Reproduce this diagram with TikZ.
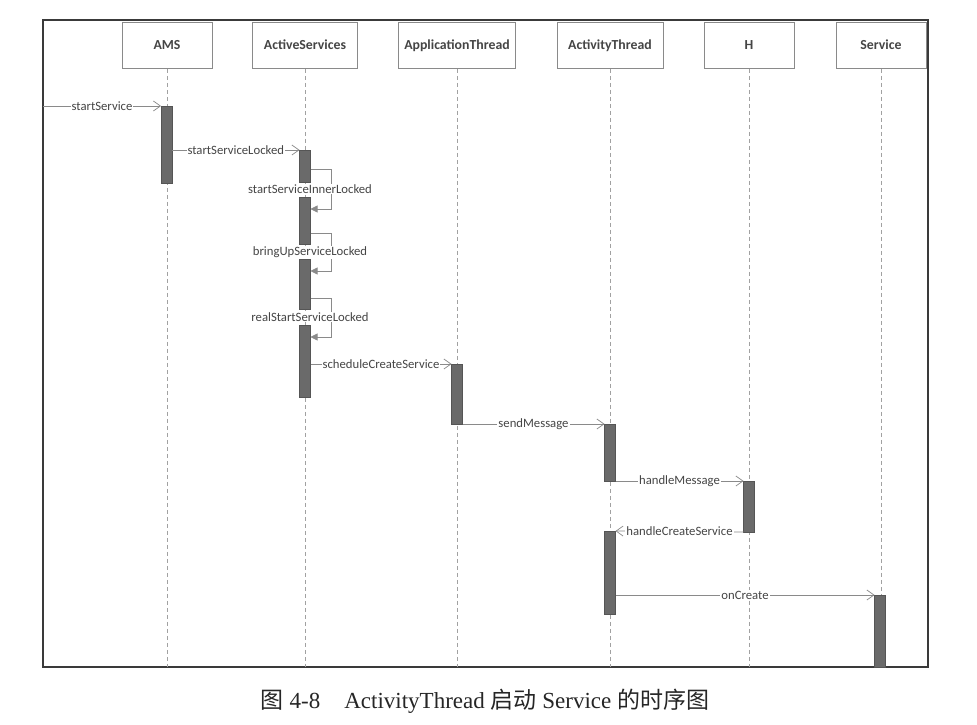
\documentclass[tikz,border=0pt]{standalone}
\usepackage{fontspec}
\setmainfont{Liberation Serif}
\newfontfamily\diagfont{Carlito}
\newfontfamily\cjk{Noto Sans CJK SC}
\usetikzlibrary{arrows.meta}
\definecolor{lineg}{HTML}{8A8A8A}
\definecolor{txtg}{HTML}{454545}
\definecolor{barg}{HTML}{6A6A6A}
\definecolor{frameg}{HTML}{3A3A3A}
\tikzset{
  objbox/.style={draw=lineg, line width=0.8pt, minimum width=90pt, minimum height=46pt, inner sep=0pt, anchor=north,
    text height=11.5pt, text depth=2.5pt,
    font=\diagfont\fontsize{13.8}{15}\selectfont\bfseries, text=txtg},
  lifeline/.style={draw=lineg!80, line width=0.7pt, dash pattern=on 4pt off 3pt},
  actbar/.style={fill=barg, draw=barg!80!black, line width=0.4pt, minimum width=11pt, inner sep=0pt, outer sep=0pt, anchor=north},
  msg/.style={draw=lineg, line width=0.7pt, -{Straight Barb[length=7pt,width=10pt,line width=0.7pt]}},
  selfmsg/.style={draw=lineg, line width=0.7pt, -{Triangle[length=7pt,width=7pt]}},
  msglabel/.style={fill=white, inner sep=1pt, font=\diagfont\fontsize{12.7}{14}\selectfont, text=txtg},
}
\begin{document}
\begin{tikzpicture}[x=1pt,y=-1pt]
\useasboundingbox (0,0) rectangle (977,725);
\fill[white] (0,0) rectangle (977,725);
% frame
\draw[frameg, line width=1.2pt] (43,20) rectangle (928,667);
\coordinate (fbot) at (0,667);
\coordinate (fleft) at (43,106);
% object boxes
\node[objbox] (ams) at (167,22) {AMS};
\node[objbox, minimum width=105pt] (as) at (305,22) {ActiveServices};
\node[objbox, minimum width=117pt] (apt) at (457,22) {ApplicationThread};
\node[objbox, minimum width=106pt] (act) at (610,22) {ActivityThread};
\node[objbox] (h) at (749,22) {H};
\node[objbox] (svc) at (881,22) {Service};
% lifelines
\foreach \o in {ams,as,apt,act,h,svc}
  \draw[lifeline] (\o.south) -- (\o.south |- fbot);
% activation bars
\node[actbar, minimum height=77pt] (amsb) at (166.5,106) {};
\node[actbar, minimum height=32pt] (asb1) at (305,150) {};
\node[actbar, minimum height=47pt] (asb2) at (305,197) {};
\node[actbar, minimum height=50pt] (asb3) at (305,259) {};
\node[actbar, minimum height=72pt] (asb4) at (305,325) {};
\node[actbar, minimum height=60pt] (aptb) at (457,364) {};
\node[actbar, minimum height=57pt] (actb1) at (610,424) {};
\node[actbar, minimum height=51pt] (hb) at (749,481) {};
\node[actbar, minimum height=83pt] (actb2) at (610,531) {};
\node[actbar, minimum height=72pt] (svcb) at (880,595) {};
% messages
\draw[msg] (fleft) -- node[msglabel]{startService} (amsb.north west);
\draw[msg] (amsb.east |- asb1.north) -- node[msglabel]{startServiceLocked} (asb1.north west);
\draw[msg] (asb4.east |- aptb.north) -- node[msglabel]{scheduleCreateService} (aptb.north west);
\draw[msg] (aptb.south east) -- node[msglabel]{sendMessage} (actb1.north west);
\draw[msg] (actb1.south east) -- node[msglabel]{handleMessage} (hb.north west);
\draw[msg] (hb.south west) -- node[msglabel]{handleCreateService} (actb2.north east);
\draw[msg] (actb2.east |- svcb.north) -- node[msglabel]{onCreate} (svcb.north west);
% self calls
\coordinate (s1a) at (0,169); \coordinate (s1b) at (0,209);
\coordinate (s2a) at (0,233); \coordinate (s2b) at (0,271);
\coordinate (s3a) at (0,298); \coordinate (s3b) at (0,337);
\draw[selfmsg] (asb1.east |- s1a) -- ++(21,0) |- (asb2.east |- s1b);
\draw[selfmsg] (asb2.east |- s2a) -- ++(21,0) |- (asb3.east |- s2b);
\draw[selfmsg] (asb3.east |- s3a) -- ++(21,0) |- (asb4.east |- s3b);
\node[msglabel] (l1) at (310,189) {startServiceInnerLocked};
\node[msglabel] (l2) at (310,252) {bringUpServiceLocked};
\node[msglabel] (l3) at (310,317) {realStartServiceLocked};
% caption
\node[font=\fontsize{23}{26}\selectfont, text=black!85] (cap) at (485,701)
  {{\cjk 图} 4-8\hspace{24pt}ActivityThread {\cjk 启动} Service {\cjk 的时序图}};
\end{tikzpicture}
\end{document}
